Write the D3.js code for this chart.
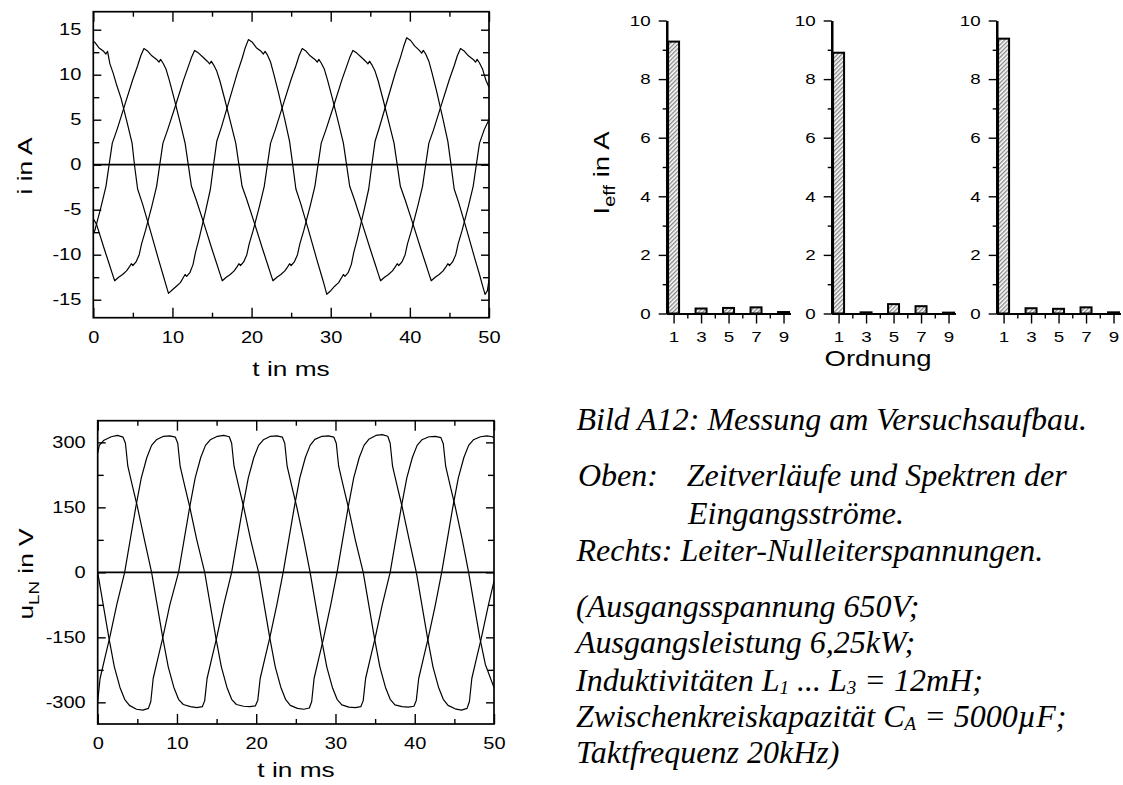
<!DOCTYPE html>
<html>
<head>
<meta charset="utf-8">
<script src="https://cdn.jsdelivr.net/npm/d3@7"></script>
<style>
  html, body { margin: 0; padding: 0; background: #fff; }
  svg { display: block; }
  .sans, .sans text { font-family: "Liberation Sans", Arial, Helvetica, sans-serif; fill: #000; }
  .cap { font-family: "Liberation Serif", "Times New Roman", serif; font-style: italic; font-size: 32px; fill: #000; }
  .tick line { stroke: #000; stroke-width: 1.4; }
</style>
</head>
<body>
<svg id="fig" width="1123" height="785"></svg>
<script>
// ---- Input currents i(t) in A, three phases, [t in ms, i in A]
const currentA = [
  [0,13.7],[0.2,13.6],[0.7,13.0],[1.3,12.6],[1.6,12.3],[1.8,12.6],[2.1,11.2],[2.5,10.2],[2.9,9.0],[3.5,7.4],[4.3,4.6],[4.9,2.4],[5.2,0],
  [5.6,-2.7],[6.2,-4.3],[7.2,-7.3],[8.2,-10.4],[8.8,-12.2],[9.2,-13.4],[9.5,-14.3],[10.0,-13.9],[10.5,-13.5],[11.0,-13.1],[11.4,-12.5],[11.6,-12.2],[11.8,-12.4],[12.2,-12.0],[12.6,-11.1],[12.9,-9.8],[13.4,-8.1],[14.2,-5.1],[14.8,-2.7],[15.2,0],
  [15.6,2.6],[16.2,4.2],[17.2,7.2],[18.2,10.2],[18.8,11.8],[19.2,13.0],[19.6,13.9],[20.1,13.6],[20.6,13.0],[21.2,12.6],[21.5,12.3],[21.7,12.6],[22.0,12.2],[22.4,11.4],[22.8,10.1],[23.4,8.0],[24.2,5.0],[24.8,2.6],[25.2,0],
  [25.6,-2.7],[26.2,-4.3],[27.2,-7.3],[28.2,-10.4],[28.8,-12.2],[29.2,-13.4],[29.5,-14.4],[30.0,-14.0],[30.5,-13.5],[31.0,-13.1],[31.4,-12.5],[31.6,-12.2],[31.8,-12.4],[32.2,-12.0],[32.6,-11.1],[32.9,-9.8],[33.4,-8.1],[34.2,-5.1],[34.8,-2.7],[35.2,0],
  [35.6,2.6],[36.2,4.3],[37.2,7.3],[38.2,10.3],[38.8,11.9],[39.2,13.1],[39.6,14.1],[40.1,13.8],[40.6,13.2],[41.2,12.7],[41.5,12.4],[41.7,12.7],[42.0,12.3],[42.4,11.5],[42.8,10.2],[43.4,8.1],[44.2,5.0],[44.8,2.6],[45.2,0],
  [45.6,-2.7],[46.2,-4.3],[47.2,-7.3],[48.2,-10.4],[48.8,-12.2],[49.2,-13.5],[49.5,-14.4],[49.8,-14.0],[50,-12.8]
];
const currentB = [
  [0,-7.6],[0.2,-7.3],[1.0,-4.6],[1.6,-2.4],[2.0,0],
  [2.4,2.4],[3,3.9],[4,6.7],[5,9.5],[5.6,11.0],[6,12.1],[6.4,12.9],[6.9,12.6],[7.4,12.1],[8,11.7],[8.3,11.4],[8.5,11.7],[8.8,11.3],[9.2,10.6],[9.6,9.4],[10.2,7.4],[11,4.6],[11.6,2.4],[12,0],
  [12.4,-2.4],[13,-3.9],[14,-6.6],[15,-9.4],[15.6,-11.0],[16,-12.1],[16.3,-12.9],[16.8,-12.5],[17.3,-12.2],[17.8,-11.8],[18.2,-11.3],[18.4,-11.0],[18.6,-11.2],[19,-10.8],[19.4,-10.0],[19.7,-8.8],[20.2,-7.3],[21,-4.6],[21.6,-2.4],[22,0],
  [22.4,2.4],[23,3.9],[24,6.7],[25,9.5],[25.6,11.0],[26,12.1],[26.4,12.9],[26.9,12.6],[27.4,12.1],[28,11.7],[28.3,11.4],[28.5,11.7],[28.8,11.3],[29.2,10.6],[29.6,9.4],[30.2,7.4],[31,4.6],[31.6,2.4],[32,0],
  [32.4,-2.4],[33,-3.9],[34,-6.6],[35,-9.4],[35.6,-11.0],[36,-12.1],[36.3,-12.9],[36.8,-12.5],[37.3,-12.2],[37.8,-11.8],[38.2,-11.3],[38.4,-11.0],[38.6,-11.2],[39,-10.8],[39.4,-10.0],[39.7,-8.8],[40.2,-7.3],[41,-4.6],[41.6,-2.4],[42,0],
  [42.4,2.4],[43,3.9],[44,6.7],[45,9.5],[45.6,11.0],[46,12.1],[46.4,12.9],[46.9,12.6],[47.4,12.1],[48,11.7],[48.3,11.4],[48.5,11.7],[48.8,11.3],[49.2,10.6],[49.6,9.4],[50,8.6]
];
const currentC = [
  [0,-6.0],[0.4,-6.6],[1.4,-9.4],[2.0,-11.0],[2.4,-12.1],[2.7,-12.9],[3.2,-12.5],[3.7,-12.2],[4.2,-11.8],[4.6,-11.3],[4.8,-11.0],[5.0,-11.2],[5.4,-10.8],[5.8,-10.0],[6.1,-8.8],[6.6,-7.3],[7.4,-4.6],[8.0,-2.4],[8.4,0],
  [8.8,2.4],[9.4,3.9],[10.4,6.6],[11.4,9.4],[12.0,10.9],[12.4,11.9],[12.8,12.7],[13.3,12.4],[13.8,12.0],[14.4,11.5],[14.7,11.2],[14.9,11.5],[15.2,11.1],[15.6,10.4],[16.0,9.3],[16.6,7.3],[17.4,4.5],[18.0,2.4],[18.4,0],
  [18.8,-2.4],[19.4,-3.9],[20.4,-6.6],[21.4,-9.4],[22.0,-11.0],[22.4,-12.1],[22.7,-12.9],[23.2,-12.5],[23.7,-12.2],[24.2,-11.8],[24.6,-11.3],[24.8,-11.0],[25.0,-11.2],[25.4,-10.8],[25.8,-10.0],[26.1,-8.8],[26.6,-7.3],[27.4,-4.6],[28.0,-2.4],[28.4,0],
  [28.8,2.4],[29.4,3.9],[30.4,6.6],[31.4,9.4],[32.0,10.9],[32.4,11.9],[32.8,12.7],[33.3,12.4],[33.8,12.0],[34.4,11.5],[34.7,11.2],[34.9,11.5],[35.2,11.1],[35.6,10.4],[36.0,9.3],[36.6,7.3],[37.4,4.5],[38.0,2.4],[38.4,0],
  [38.8,-2.4],[39.4,-3.9],[40.4,-6.6],[41.4,-9.4],[42.0,-11.0],[42.4,-12.1],[42.7,-12.9],[43.2,-12.5],[43.7,-12.2],[44.2,-11.8],[44.6,-11.3],[44.8,-11.0],[45.0,-11.2],[45.4,-10.8],[45.8,-10.0],[46.1,-8.8],[46.6,-7.3],[47.4,-4.6],[48.0,-2.4],[48.4,0],
  [48.8,2.4],[49.4,3.9],[50,5.0]
];

// ---- Line-to-neutral voltages u_LN(t) in V, [t in ms, u in V]
const voltageA = [
  [0,275],[0.2,293],[0.8,305],[1.7,313],[2.5,316],[3.2,312],[3.5,298],[3.8,245],[4.4,198],[5.0,152],[5.9,75],[6.8,0],
  [7.5,-75],[8.2,-150],[8.9,-218],[9.6,-265],[10.2,-293],[10.8,-305],[11.7,-310],[12.5,-312],[13.2,-310],[13.5,-296],[13.8,-245],[14.4,-198],[15.0,-152],[15.9,-75],[16.9,0],
  [17.6,75],[18.3,150],[19.0,218],[19.7,265],[20.3,293],[20.9,306],[21.8,314],[22.6,315],[23.3,312],[23.6,298],[23.9,245],[24.5,198],[25.1,152],[26.0,75],[26.8,0],
  [27.5,-75],[28.2,-150],[28.9,-218],[29.6,-265],[30.2,-293],[30.8,-306],[31.7,-311],[32.5,-312],[33.2,-310],[33.5,-296],[33.8,-245],[34.4,-198],[35.0,-152],[35.9,-75],[36.9,0],
  [37.6,75],[38.3,150],[39.0,218],[39.7,265],[40.3,293],[40.9,306],[41.8,313],[42.6,314],[43.3,311],[43.6,297],[43.9,245],[44.5,198],[45.1,152],[46.0,75],[46.8,0],
  [47.5,-75],[48.2,-150],[48.9,-212],[50,-266]
];
const voltageB = [
  [0,0],[0.7,-75],[1.4,-150],[2.1,-218],[2.8,-265],[3.4,-293],[4.0,-307],[4.9,-316],[5.7,-318],[6.4,-314],[6.7,-298],[7.0,-245],[7.6,-198],[8.2,-152],[9.1,-75],[10.2,0],
  [10.9,75],[11.6,150],[12.3,218],[13.0,265],[13.6,293],[14.2,306],[15.1,314],[15.9,316],[16.6,313],[16.9,298],[17.2,245],[17.8,198],[18.4,152],[19.3,75],[20.3,0],
  [21.0,-75],[21.7,-150],[22.4,-218],[23.1,-265],[23.7,-293],[24.3,-307],[25.2,-314],[26.0,-316],[26.7,-313],[27.0,-298],[27.3,-245],[27.9,-198],[28.5,-152],[29.4,-75],[30.2,0],
  [30.9,75],[31.6,150],[32.3,218],[33.0,265],[33.6,293],[34.2,307],[35.1,316],[35.9,318],[36.6,314],[36.9,298],[37.2,245],[37.8,198],[38.4,152],[39.3,75],[40.2,0],
  [40.9,-75],[41.6,-150],[42.3,-218],[43.0,-265],[43.6,-293],[44.2,-307],[45.1,-315],[45.9,-318],[46.6,-314],[46.9,-298],[47.2,-245],[47.8,-198],[48.4,-152],[49.3,-75],[50,-20]
];
const voltageC = [
  [0,-298],[0.3,-245],[0.9,-198],[1.5,-152],[2.4,-75],[3.4,0],
  [4.1,75],[4.8,150],[5.5,218],[6.2,265],[6.8,293],[7.4,306],[8.3,314],[9.1,315],[9.8,312],[10.1,298],[10.4,245],[11.0,198],[11.6,152],[12.5,75],[13.5,0],
  [14.2,-75],[14.9,-150],[15.6,-218],[16.3,-265],[16.9,-293],[17.5,-305],[18.4,-309],[19.2,-310],[19.9,-308],[20.2,-295],[20.5,-245],[21.1,-198],[21.7,-152],[22.6,-75],[23.4,0],
  [24.1,75],[24.8,150],[25.5,218],[26.2,265],[26.8,293],[27.4,307],[28.3,314],[29.1,315],[29.8,312],[30.1,298],[30.4,245],[31.0,198],[31.6,152],[32.5,75],[33.5,0],
  [34.2,-75],[34.9,-150],[35.6,-218],[36.3,-265],[36.9,-293],[37.5,-306],[38.4,-310],[39.2,-311],[39.9,-309],[40.2,-295],[40.5,-245],[41.1,-198],[41.7,-152],[42.6,-75],[43.4,0],
  [44.1,75],[44.8,150],[45.5,218],[46.2,265],[46.8,293],[47.4,306],[48.3,313],[49.1,315],[49.8,313],[50,310]
];

// ---- Harmonic spectra of the three input currents (RMS, A)
const orders = [1, 3, 5, 7, 9];
const spectrumL1 = [9.28, 0.17, 0.19, 0.21, 0.05];
const spectrumL2 = [8.90, 0.04, 0.32, 0.25, 0.03];
const spectrumL3 = [9.38, 0.18, 0.16, 0.21, 0.04];

// ---- Tick values
const timeTicks = [0, 10, 20, 30, 40, 50];
const timeMinorTicks = [5, 15, 25, 35, 45];
const currentTicks = [-15, -10, -5, 0, 5, 10, 15];
const currentMinorTicks = [-12.5, -7.5, -2.5, 2.5, 7.5, 12.5];
const voltageTicks = [-300, -150, 0, 150, 300];
const voltageMinorTicks = [-225, -75, 75, 225];
const levelTicks = [0, 2, 4, 6, 8, 10];
const levelMinorTicks = [1, 3, 5, 7, 9];
const orderMinorTicks = [2, 4, 6, 8];

// The sans lettering of the figure is set wide: glyphs are stretched along the text direction
const WIDE = 1.25;

const svg = d3.select("#fig");
svg.append("rect").attr("width", 1123).attr("height", 785).attr("fill", "#fff");

const defs = svg.append("defs");
const hatch = defs.append("pattern")
  .attr("id", "hatch").attr("patternUnits", "userSpaceOnUse")
  .attr("width", 3).attr("height", 3)
  .attr("patternTransform", "rotate(45)");
hatch.append("rect").attr("width", 3).attr("height", 3).attr("fill", "#fff");
hatch.append("line").attr("x1", 0.75).attr("y1", 0).attr("x2", 0.75).attr("y2", 3)
  .attr("stroke", "#6a6a6a").attr("stroke-width", 1.1);

const plain = d => String(d);

// stretch axis tick labels horizontally while keeping their anchor point
function widenTicks(sel, size) {
  sel.selectAll("text").each(function () {
    const t = d3.select(this);
    const x = +t.attr("x") || 0;
    t.attr("x", x / WIDE).attr("transform", `scale(${WIDE},1)`)
      .attr("font-size", size).attr("fill", "#000")
      .attr("font-family", '"Liberation Sans", Arial, sans-serif');
  });
}

// wide sans text placed at (x, y), optionally rotated
function wideText(parent, x, y, size, rot) {
  return parent.append("text").attr("class", "sans")
    .attr("transform", `translate(${x},${y})` + (rot ? ` rotate(${rot})` : "") + ` scale(${WIDE},1)`)
    .attr("text-anchor", "middle").attr("font-size", size);
}

// Framed time-domain plot with inward ticks on all four sides
function timePlot(id, box, yDomain, yMajor, yMinor, series) {
  const x = d3.scaleLinear().domain([0, 50]).range([box.x0, box.x1]);
  const y = d3.scaleLinear().domain(yDomain).range([box.y1, box.y0]);
  const g = svg.append("g").attr("class", "sans");

  defs.append("clipPath").attr("id", id)
    .append("rect").attr("x", box.x0).attr("y", box.y0)
    .attr("width", box.x1 - box.x0).attr("height", box.y1 - box.y0);

  const line = d3.line().x(d => x(d[0])).y(d => y(d[1]));
  const curves = g.append("g").attr("clip-path", `url(#${id})`);
  series.forEach(s => curves.append("path").attr("d", line(s))
    .attr("fill", "none").attr("stroke", "#000").attr("stroke-width", 1.2)
    .attr("stroke-linejoin", "round"));

  // zero line
  g.append("line").attr("x1", box.x0).attr("x2", box.x1)
    .attr("y1", y(0)).attr("y2", y(0)).attr("stroke", "#000").attr("stroke-width", 1.7);

  const axes = [
    { a: d3.axisBottom(x).tickValues(timeTicks).tickSize(-10).tickPadding(14).tickFormat(plain), t: `translate(0,${box.y1})` },
    { a: d3.axisBottom(x).tickValues(timeMinorTicks).tickSize(-5).tickFormat(""), t: `translate(0,${box.y1})` },
    { a: d3.axisTop(x).tickValues(timeTicks).tickSize(-10).tickFormat(""), t: `translate(0,${box.y0})` },
    { a: d3.axisTop(x).tickValues(timeMinorTicks).tickSize(-5).tickFormat(""), t: `translate(0,${box.y0})` },
    { a: d3.axisLeft(y).tickValues(yMajor).tickSize(-8).tickPadding(12).tickFormat(plain), t: `translate(${box.x0},0)` },
    { a: d3.axisLeft(y).tickValues(yMinor).tickSize(-6).tickFormat(""), t: `translate(${box.x0},0)` },
    { a: d3.axisRight(y).tickValues(yMajor).tickSize(-8).tickFormat(""), t: `translate(${box.x1},0)` },
    { a: d3.axisRight(y).tickValues(yMinor).tickSize(-6).tickFormat(""), t: `translate(${box.x1},0)` }
  ];
  axes.forEach(ax => {
    const ag = g.append("g").attr("transform", ax.t).call(ax.a);
    ag.select(".domain").remove();
    widenTicks(ag, 16);
  });

  g.append("rect").attr("x", box.x0).attr("y", box.y0)
    .attr("width", box.x1 - box.x0).attr("height", box.y1 - box.y0)
    .attr("fill", "none").attr("stroke", "#000").attr("stroke-width", 1.7);
  return { x, y, g };
}

// ---- Top: input currents
const currentPlot = timePlot("clipI", { x0: 93.3, x1: 489, y0: 11.7, y1: 317.7 }, [-17, 17],
  currentTicks, currentMinorTicks, [currentA, currentB, currentC]);
wideText(currentPlot.g, 291, 376, 21).text("t in ms");
wideText(currentPlot.g, 32, 166, 21, -90).text("i in A");

// ---- Bottom: line-to-neutral voltages
const voltagePlot = timePlot("clipU", { x0: 97.7, x1: 494, y0: 420.7, y1: 724 }, [-350, 350],
  voltageTicks, voltageMinorTicks, [voltageA, voltageB, voltageC]);
wideText(voltagePlot.g, 296, 777, 21).text("t in ms");
const uLabel = wideText(voltagePlot.g, 33, 574, 21, -90);
uLabel.append("tspan").text("u");
uLabel.append("tspan").attr("font-size", 15).attr("dy", 6).text("LN");
uLabel.append("tspan").attr("dy", -6).text(" in V");

// ---- Harmonic spectra
const spectra = [spectrumL1, spectrumL2, spectrumL3];
const spectrumLeft = [666.7, 831.7, 996.7];
spectra.forEach((values, k) => {
  const x0 = spectrumLeft[k];
  const x = d3.scaleLinear().domain([0.5, 9.5]).range([x0, x0 + 123.7]);
  const y = d3.scaleLinear().domain([0, 10]).range([313.5, 20.5]);
  const g = svg.append("g").attr("class", "sans");

  g.selectAll("rect.bar").data(orders.map((o, i) => ({ o, v: values[i] })))
    .join("rect").attr("class", "bar")
    .attr("x", d => x(d.o) - 5.5).attr("width", 11)
    .attr("y", d => y(d.v)).attr("height", d => y(0) - y(d.v))
    .attr("fill", "url(#hatch)").attr("stroke", "#000").attr("stroke-width", 2);

  const style = sel => {
    sel.select(".domain").attr("stroke", "#000").attr("stroke-width", 2.2);
    sel.selectAll(".tick line").attr("stroke-width", 1.8);
    widenTicks(sel, 15);
  };
  g.append("g").attr("transform", `translate(0,${y(0)})`)
    .call(d3.axisBottom(x).tickValues(orderMinorTicks).tickSize(5).tickSizeOuter(0).tickFormat(""))
    .call(style);
  g.append("g").attr("transform", `translate(0,${y(0)})`)
    .call(d3.axisBottom(x).tickValues(orders).tickSize(10).tickSizeOuter(0).tickPadding(8).tickFormat(plain))
    .call(style);
  g.append("g").attr("transform", `translate(${x0},0)`)
    .call(d3.axisLeft(y).tickValues(levelMinorTicks).tickSize(4).tickSizeOuter(0).tickFormat(""))
    .call(style);
  g.append("g").attr("transform", `translate(${x0},0)`)
    .call(d3.axisLeft(y).tickValues(levelTicks).tickSize(8).tickSizeOuter(0).tickPadding(8).tickFormat(plain))
    .call(style);
});

const ieff = wideText(svg, 609, 173, 22, -90);
ieff.append("tspan").text("I");
ieff.append("tspan").attr("font-size", 16).attr("dy", 6).text("eff");
ieff.append("tspan").attr("dy", -6).text(" in A");

wideText(svg, 878, 366, 22).text("Ordnung");

// ---- Caption
const cap = svg.append("g").attr("class", "cap");
const capLine = (x, y) => cap.append("text").attr("x", x).attr("y", y);
capLine(576.5, 430).text("Bild A12: Messung am Versuchsaufbau.");
capLine(578, 486).text("Oben:");
capLine(686.7, 486).text("Zeitverläufe und Spektren der");
capLine(688, 524).text("Eingangsströme.");
capLine(576.5, 561).text("Rechts: Leiter-Nulleiterspannungen.");
capLine(576, 617).text("(Ausgangsspannung 650V;");
capLine(576, 653).text("Ausgangsleistung 6,25kW;");
const ind = capLine(576, 690.5);
ind.append("tspan").text("Induktivitäten L");
ind.append("tspan").attr("font-size", 19).attr("dy", 3).text("1");
ind.append("tspan").attr("dy", -3).text(" ... L");
ind.append("tspan").attr("font-size", 19).attr("dy", 3).text("3");
ind.append("tspan").attr("dy", -3).text(" = 12mH;");
const zk = capLine(576, 727);
zk.append("tspan").text("Zwischenkreiskapazität C");
zk.append("tspan").attr("font-size", 19).attr("dy", 3).text("A");
zk.append("tspan").attr("dy", -3).text(" = 5000µF;");
capLine(576, 763).text("Taktfrequenz 20kHz)");
</script>
</body>
</html>
